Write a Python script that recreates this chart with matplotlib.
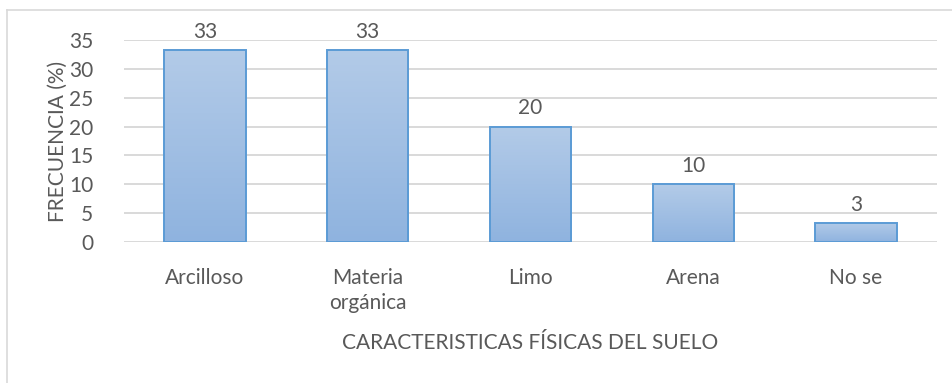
import matplotlib.pyplot as plt
import numpy as np
from matplotlib.colors import LinearSegmentedColormap
from matplotlib.lines import Line2D

categories = ['Arcilloso', 'Materia\norgánica', 'Limo', 'Arena', 'No se']
frecuencia = [33.3, 33.3, 20.0, 10.0, 3.3]
y_ticks = [0, 5, 10, 15, 20, 25, 30, 35]

TEXT_COLOR = '#595959'
GRID_COLOR = '#d9d9d9'
EDGE_COLOR = '#5b9bd5'

plt.rcParams['font.family'] = ['Lato', 'DejaVu Sans']

W, H = 953, 383
fig = plt.figure(figsize=(W / 100, H / 100), dpi=100)
ax = fig.add_axes([123.6 / W, 1 - 242 / H, (937.4 - 123.6) / W, (242 - 40) / H])

# chart frame: only top and left edges are visible
fig.add_artist(Line2D([7 / W, 1.0], [1 - 10 / H] * 2, color=GRID_COLOR, lw=1.2))
fig.add_artist(Line2D([6.5 / W] * 2, [0, 1 - 10 / H], color=GRID_COLOR, lw=1.2))

x = np.arange(len(categories))
bars = ax.bar(x, frecuencia, width=0.5, color='none', edgecolor=EDGE_COLOR,
              linewidth=1.4, zorder=3)

# vertical gradient fill clipped to each bar
cmap = LinearSegmentedColormap.from_list('bar', ['#8fb3df', '#b3cbe8'])
grad = np.linspace(0, 1, 256).reshape(-1, 1)
for b in bars:
    x0, y0 = b.get_x(), b.get_y()
    im = ax.imshow(grad, cmap=cmap, origin='lower', aspect='auto',
                   extent=[x0, x0 + b.get_width(), y0, y0 + b.get_height()],
                   zorder=2)
    im.set_clip_path(b)

for xi, v in zip(x, frecuencia):
    ax.text(xi, v + 1.4, f'{v:.0f}', ha='center', va='bottom',
            fontsize=15, color=TEXT_COLOR)

ax.set_xlim(-0.5, len(categories) - 0.5)
ax.set_ylim(0, 35)
ax.set_yticks(y_ticks)
ax.set_xticks(x)
ax.set_xticklabels(categories, linespacing=1.3)
ax.tick_params(axis='both', length=0, labelsize=15, labelcolor=TEXT_COLOR)
ax.tick_params(axis='x', pad=19)
ax.tick_params(axis='y', pad=22)
ax.grid(axis='y', color=GRID_COLOR, linewidth=1.4, zorder=0)
for s in ax.spines.values():
    s.set_visible(False)

ax.set_ylabel('FRECUENCIA (%)', fontsize=15, color=TEXT_COLOR, labelpad=1)
ax.set_xlabel('CARACTERISTICAS FÍSICAS DEL SUELO', fontsize=15,
              color=TEXT_COLOR, labelpad=14)

fig.savefig('out.png', dpi=100)
